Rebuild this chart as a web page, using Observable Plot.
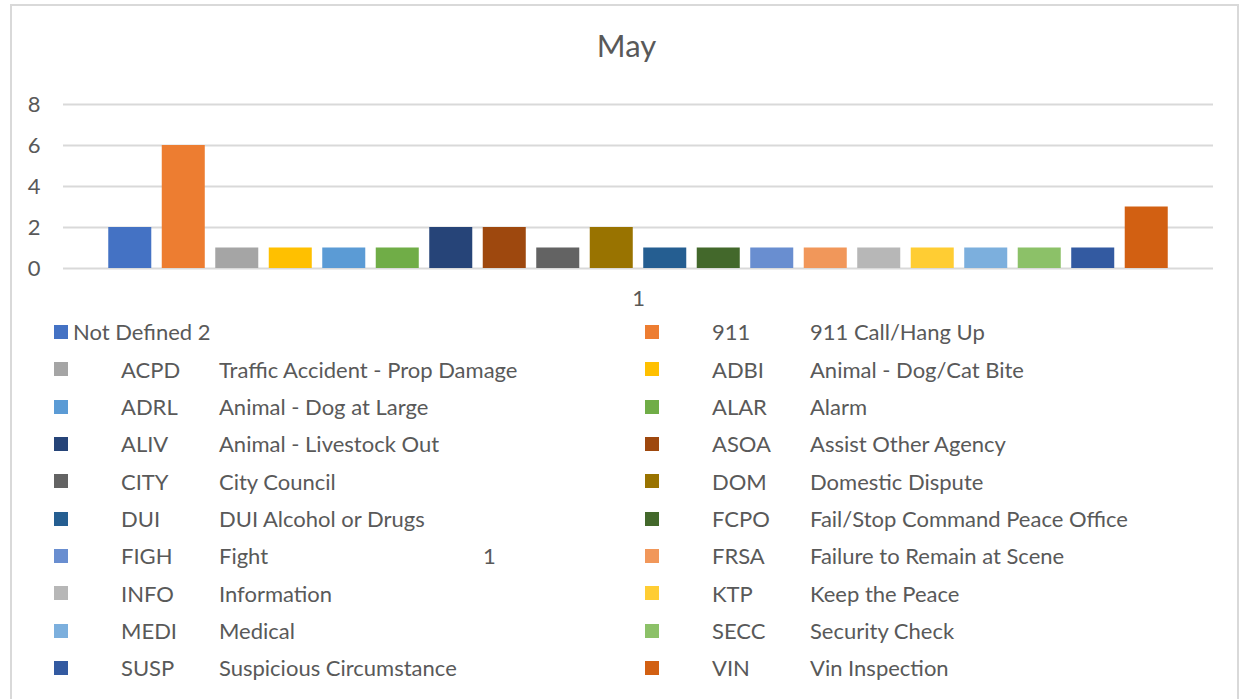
<!DOCTYPE html>
<html>
<head>
<meta charset="utf-8">
<script src="https://cdn.jsdelivr.net/npm/d3@7"></script>
<script src="https://cdn.jsdelivr.net/npm/@observablehq/plot@0.6"></script>
<style>
  html, body { margin: 0; padding: 0; background: #fff; overflow: hidden; }
  #root { position: relative; width: 1251px; height: 699px; font-family: Lato, "Open Sans", sans-serif; color: #595959; }
  #frame { position: absolute; left: 10px; top: 4px; width: 1229px; height: 740px; border: 2px solid #d9d9d9; box-sizing: border-box; }
  #title { position: absolute; left: 10px; width: 1233px; top: 30px; text-align: center; font-size: 31px; line-height: 31px; }
  #chart { position: absolute; left: 0; top: 80px; }
  .item { position: absolute; height: 37.33px; width: 560px; }
  .sw { position: absolute; left: 0; top: 11.67px; width: 14px; height: 14px; }
  .code, .desc { position: absolute; top: 0; line-height: 37.33px; font-size: 22px; white-space: pre; tab-size: 264px; }
</style>
</head>
<body>
<div id="root">
  <div id="frame"></div>
  <div id="title"></div>
  <div id="chart"></div>
  <div id="legend"></div>
</div>
<script>
const title = "May";
const categoryLabel = "1";
const codes = ["Not Defined 2", "911", "ACPD", "ADBI", "ADRL", "ALAR", "ALIV", "ASOA", "CITY", "DOM",
               "DUI", "FCPO", "FIGH", "FRSA", "INFO", "KTP", "MEDI", "SECC", "SUSP", "VIN"];
const descs = ["", "911 Call/Hang Up", "Traffic Accident - Prop Damage", "Animal - Dog/Cat Bite",
               "Animal - Dog at Large", "Alarm", "Animal - Livestock Out", "Assist Other Agency",
               "City Council", "Domestic Dispute", "DUI Alcohol or Drugs", "Fail/Stop Command Peace Office",
               "Fight\t1", "Failure to Remain at Scene", "Information", "Keep the Peace", "Medical",
               "Security Check", "Suspicious Circumstance", "Vin Inspection"];
const values = [2, 6, 1, 1, 1, 1, 2, 2, 1, 2, 1, 1, 1, 1, 1, 1, 1, 1, 1, 3];
const colors = ["#4472C4", "#ED7D31", "#A5A5A5", "#FFC000", "#5B9BD5", "#70AD47", "#264478", "#9E480E",
                "#636363", "#997300", "#255E91", "#43682B", "#698ED0", "#F1975A", "#B7B7B7", "#FFCD33",
                "#7CAFDD", "#8CC168", "#335AA1", "#D26012"];
const yTicks = [0, 2, 4, 6, 8];

const data = codes.map((c, i) => ({code: c, value: values[i], group: categoryLabel}));

document.getElementById("title").textContent = title;

const chart = Plot.plot({
  width: 1251,
  height: 240,
  marginLeft: 63,
  marginRight: 38,
  marginTop: 24,
  marginBottom: 52,
  style: {fontFamily: "Lato, 'Open Sans', sans-serif", fontSize: "22px", color: "#595959", background: "transparent", overflow: "visible"},
  fx: {domain: [categoryLabel], padding: 0, label: null, tickSize: 0, tickPadding: 22, axis: "bottom"},
  x: {domain: codes, paddingInner: 0.196, paddingOuter: 0.846, round: false, axis: null},
  y: {domain: [0, 8], ticks: yTicks, tickSize: 0, tickPadding: 23, label: null},
  color: {domain: codes, range: colors},
  marks: [
    Plot.gridY(yTicks, {stroke: "#d9d9d9", strokeOpacity: 1, strokeWidth: 1.8}),
    Plot.barY(data, {fx: "group", x: "code", y: "value", fill: "code"})
  ]
});
document.getElementById("chart").appendChild(chart);

// Legend (two columns, row-major order)
const legend = document.getElementById("legend");
const colX = [54, 645];
const rowTop = 332 - 37.33 / 2;
codes.forEach((c, i) => {
  const col = i % 2, row = Math.floor(i / 2);
  const item = document.createElement("div");
  item.className = "item";
  item.style.left = colX[col] + "px";
  item.style.top = (rowTop + row * 37.33) + "px";
  const sw = document.createElement("div");
  sw.className = "sw";
  sw.style.background = colors[i];
  item.appendChild(sw);
  const code = document.createElement("span");
  code.className = "code";
  code.textContent = c;
  code.style.left = (descs[i] ? 67 : 19) + "px";
  item.appendChild(code);
  if (descs[i]) {
    const d = document.createElement("span");
    d.className = "desc";
    d.textContent = descs[i];
    d.style.left = "165px";
    item.appendChild(d);
  }
  legend.appendChild(item);
});
</script>
</body>
</html>
